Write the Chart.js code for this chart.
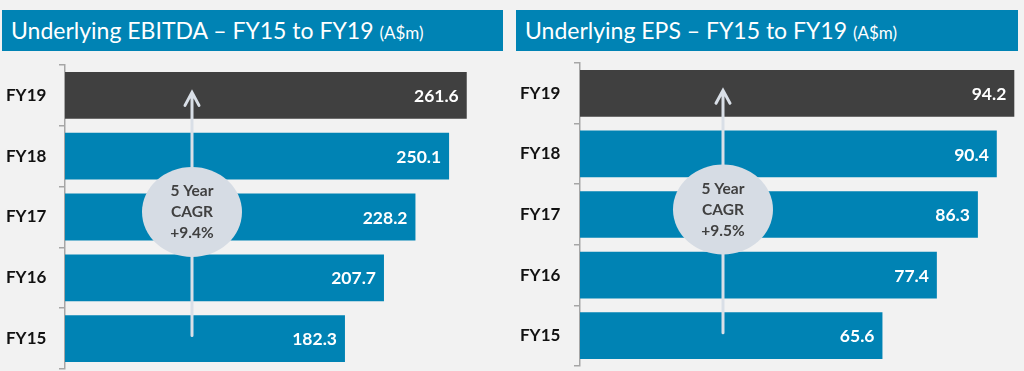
<!DOCTYPE html>
<html>
<head>
<meta charset="utf-8">
<script src="https://cdn.jsdelivr.net/npm/chart.js@4"></script>
<style>
	body {
		margin: 0;
		width: 1024px;
		height: 371px;
		overflow: hidden;
		position: relative;
		background: #f2f2f2;
		font-family: Lato, sans-serif;
	}
	.title {
		position: absolute;
		top: 10px;
		height: 41px;
		background: #0083b4;
		color: #fff;
		font-size: 23px;
		line-height: 41px;
		padding-left: 9px;
		box-sizing: border-box;
		white-space: nowrap;
	}
	.title small {
		font-size: 17px;
	}
	canvas {
		position: absolute;
		top: 55px;
	}
</style>
</head>
<body>
<div class="title" style="left:2px;width:501px;">Underlying EBITDA – FY15 to FY19 <small>(A$m)</small></div>
<div class="title" style="left:516px;width:502px;">Underlying EPS – FY15 to FY19 <small>(A$m)</small></div>
<canvas id="chartEbitda" width="512" height="316" style="left:0"></canvas>
<canvas id="chartEps" width="512" height="316" style="left:512px"></canvas>
<script>
"use strict"

// данные
const years = ['FY19', 'FY18', 'FY17', 'FY16', 'FY15'];
const ebitda = [261.6, 250.1, 228.2, 207.7, 182.3];
const eps = [94.2, 90.4, 86.3, 77.4, 65.6];
const ebitdaCagr = ['5 Year', 'CAGR', '+9.4%'];
const epsCagr = ['5 Year', 'CAGR', '+9.5%'];

const blue = '#0083b4';
const dark = '#404040';
const barColors = years.map((y, i) => i === 0 ? dark : blue);

Chart.defaults.font.family = 'Lato, sans-serif';

// подписи значений внутри столбцов
const valueLabels = {
	id: 'valueLabels',
	afterDatasetsDraw(chart) {
		const ctx = chart.ctx;
		const meta = chart.getDatasetMeta(0);
		const data = chart.data.datasets[0].data;
		ctx.save();
		ctx.font = 'bold 17.5px Lato';
		ctx.fillStyle = '#fff';
		ctx.textAlign = 'right';
		ctx.textBaseline = 'middle';
		meta.data.forEach((bar, i) => {
			ctx.fillText(data[i].toFixed(1), bar.x - 8, bar.y + 1);
		});
		ctx.restore();
	}
};

// стрелка и круг CAGR
const cagrBubble = {
	id: 'cagrBubble',
	afterDatasetsDraw(chart, args, opts) {
		const ctx = chart.ctx;
		const y = chart.scales.y;
		const x = chart.chartArea.left + opts.offset;
		const top = y.getPixelForValue(0) - 3;
		const bottom = y.getPixelForValue(years.length - 1) - 3;
		const cy = y.getPixelForValue(2) - 5;
		ctx.save();
		ctx.strokeStyle = '#d9dfe7';
		ctx.lineWidth = 3;
		ctx.lineCap = 'round';
		ctx.beginPath();
		ctx.moveTo(x, bottom);
		ctx.lineTo(x, top);
		ctx.moveTo(x - 7, top + 13);
		ctx.lineTo(x, top);
		ctx.lineTo(x + 7, top + 13);
		ctx.stroke();

		ctx.fillStyle = '#d6dce4';
		ctx.beginPath();
		ctx.ellipse(x, cy, 50, 45, 0, 0, Math.PI * 2);
		ctx.fill();

		ctx.fillStyle = '#404040';
		ctx.font = 'bold 15.5px Lato';
		ctx.textAlign = 'center';
		ctx.textBaseline = 'middle';
		opts.text.forEach((t, i) => {
			ctx.fillText(t, x, cy + (i - 1) * 21);
		});
		ctx.restore();
	}
};

function makeChart(id, values, max, padding, axisWidth, cagr) {
	return new Chart(document.getElementById(id), {
		type: 'bar',
		data: {
			labels: years,
			datasets: [{
				data: values,
				backgroundColor: barColors,
				barPercentage: 0.77,
				categoryPercentage: 1
			}]
		},
		options: {
			indexAxis: 'y',
			responsive: false,
			animation: false,
			layout: { padding: padding },
			plugins: {
				legend: { display: false },
				tooltip: { enabled: false },
				cagrBubble: cagr
			},
			scales: {
				x: { display: false, min: 0, max: max },
				y: {
					afterFit(scale) {
						scale.width = axisWidth;
						scale.paddingTop = 0;
						scale.paddingBottom = 0;
					},
					grid: { drawOnChartArea: false, tickLength: 6, color: '#a6a6a6', lineWidth: 1.5 },
					border: { color: '#a6a6a6', width: 1.5 },
					ticks: { crossAlign: 'far', color: '#111', font: { size: 17, weight: 'bold' } }
				}
			}
		},
		plugins: [cagrBubble, valueLabels]
	});
}

const chartEbitda = makeChart('chartEbitda', ebitda, 280,
	{ left: 6, top: 10, right: 17, bottom: 2 }, 59,
	{ text: ebitdaCagr, offset: 127 });

const chartEps = makeChart('chartEps', eps, 95,
	{ left: 8, top: 8, right: 6, bottom: 5 }, 60,
	{ text: epsCagr, offset: 143 });
</script>
</body>
</html>
